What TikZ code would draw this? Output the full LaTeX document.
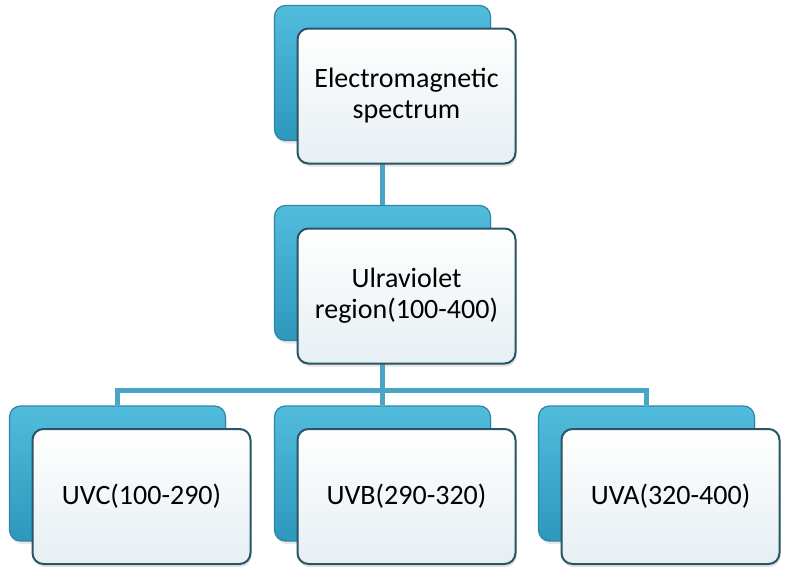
\documentclass[tikz,border=0pt]{standalone}
\usepackage{fontspec}
\setmainfont{Carlito}
\usepackage{tikz}
\usetikzlibrary{backgrounds, shadows}
\definecolor{boxedge}{HTML}{2B5566}
\definecolor{boxtop}{HTML}{FFFFFF}
\definecolor{boxbot}{HTML}{E6EFF3}
\definecolor{backtop}{HTML}{52BCDD}
\definecolor{backbot}{HTML}{2D98BC}
\definecolor{backedge}{HTML}{2C86A6}
\definecolor{linkblue}{HTML}{4AA5C4}

\begin{document}
\begin{tikzpicture}[x=1pt, y=-1pt,
  backbox/.style={rounded corners=11pt, draw=backedge, line width=1.2pt,
    top color=backtop, bottom color=backbot,
    minimum width=216pt, minimum height=135pt,
    drop shadow={opacity=0.18, shadow xshift=1pt, shadow yshift=-3pt}},
  frontbox/.style={rounded corners=11pt, draw=boxedge, line width=2pt,
    top color=boxtop, bottom color=boxbot,
    minimum width=218pt, minimum height=135pt,
    align=center, font=\fontsize{28}{31}\selectfont,
    drop shadow={opacity=0.22, shadow xshift=1pt, shadow yshift=-3pt}},
  link/.style={draw=linkblue, line width=5pt}]
  \useasboundingbox (0,0) rectangle (788,581);

  % Top levels
  \node[backbox] (em-bk) at (382.5,73) {};
  \node[frontbox] (em) at (406.5,96) {Electromagnetic\\spectrum};
  \node[backbox] (uv-bk) at (382.5,273) {};
  \node[frontbox] (uv) at (406.5,296) {Ulraviolet\\region(100-400)};

  % Bands
  \foreach \name/\cx/\txt in {uvc/141.5/UVC(100-290), uvb/406.5/UVB(290-320), uva/670.5/UVA(320-400)} {
    \node[backbox] (\name-bk) at (\cx-24,473.5) {};
    \node[frontbox] (\name) at (\cx,496.5) {\txt};
  }

  % Connectors
  \coordinate (bus) at (382.5,390);
  \begin{scope}[on background layer]
    \draw[link] (em-bk) -- (uv-bk);
    \draw[link] (uv-bk) -- (uvb-bk);
    \draw[link] (uvc-bk) |- (bus) -| (uva-bk);
  \end{scope}
\end{tikzpicture}
\end{document}
